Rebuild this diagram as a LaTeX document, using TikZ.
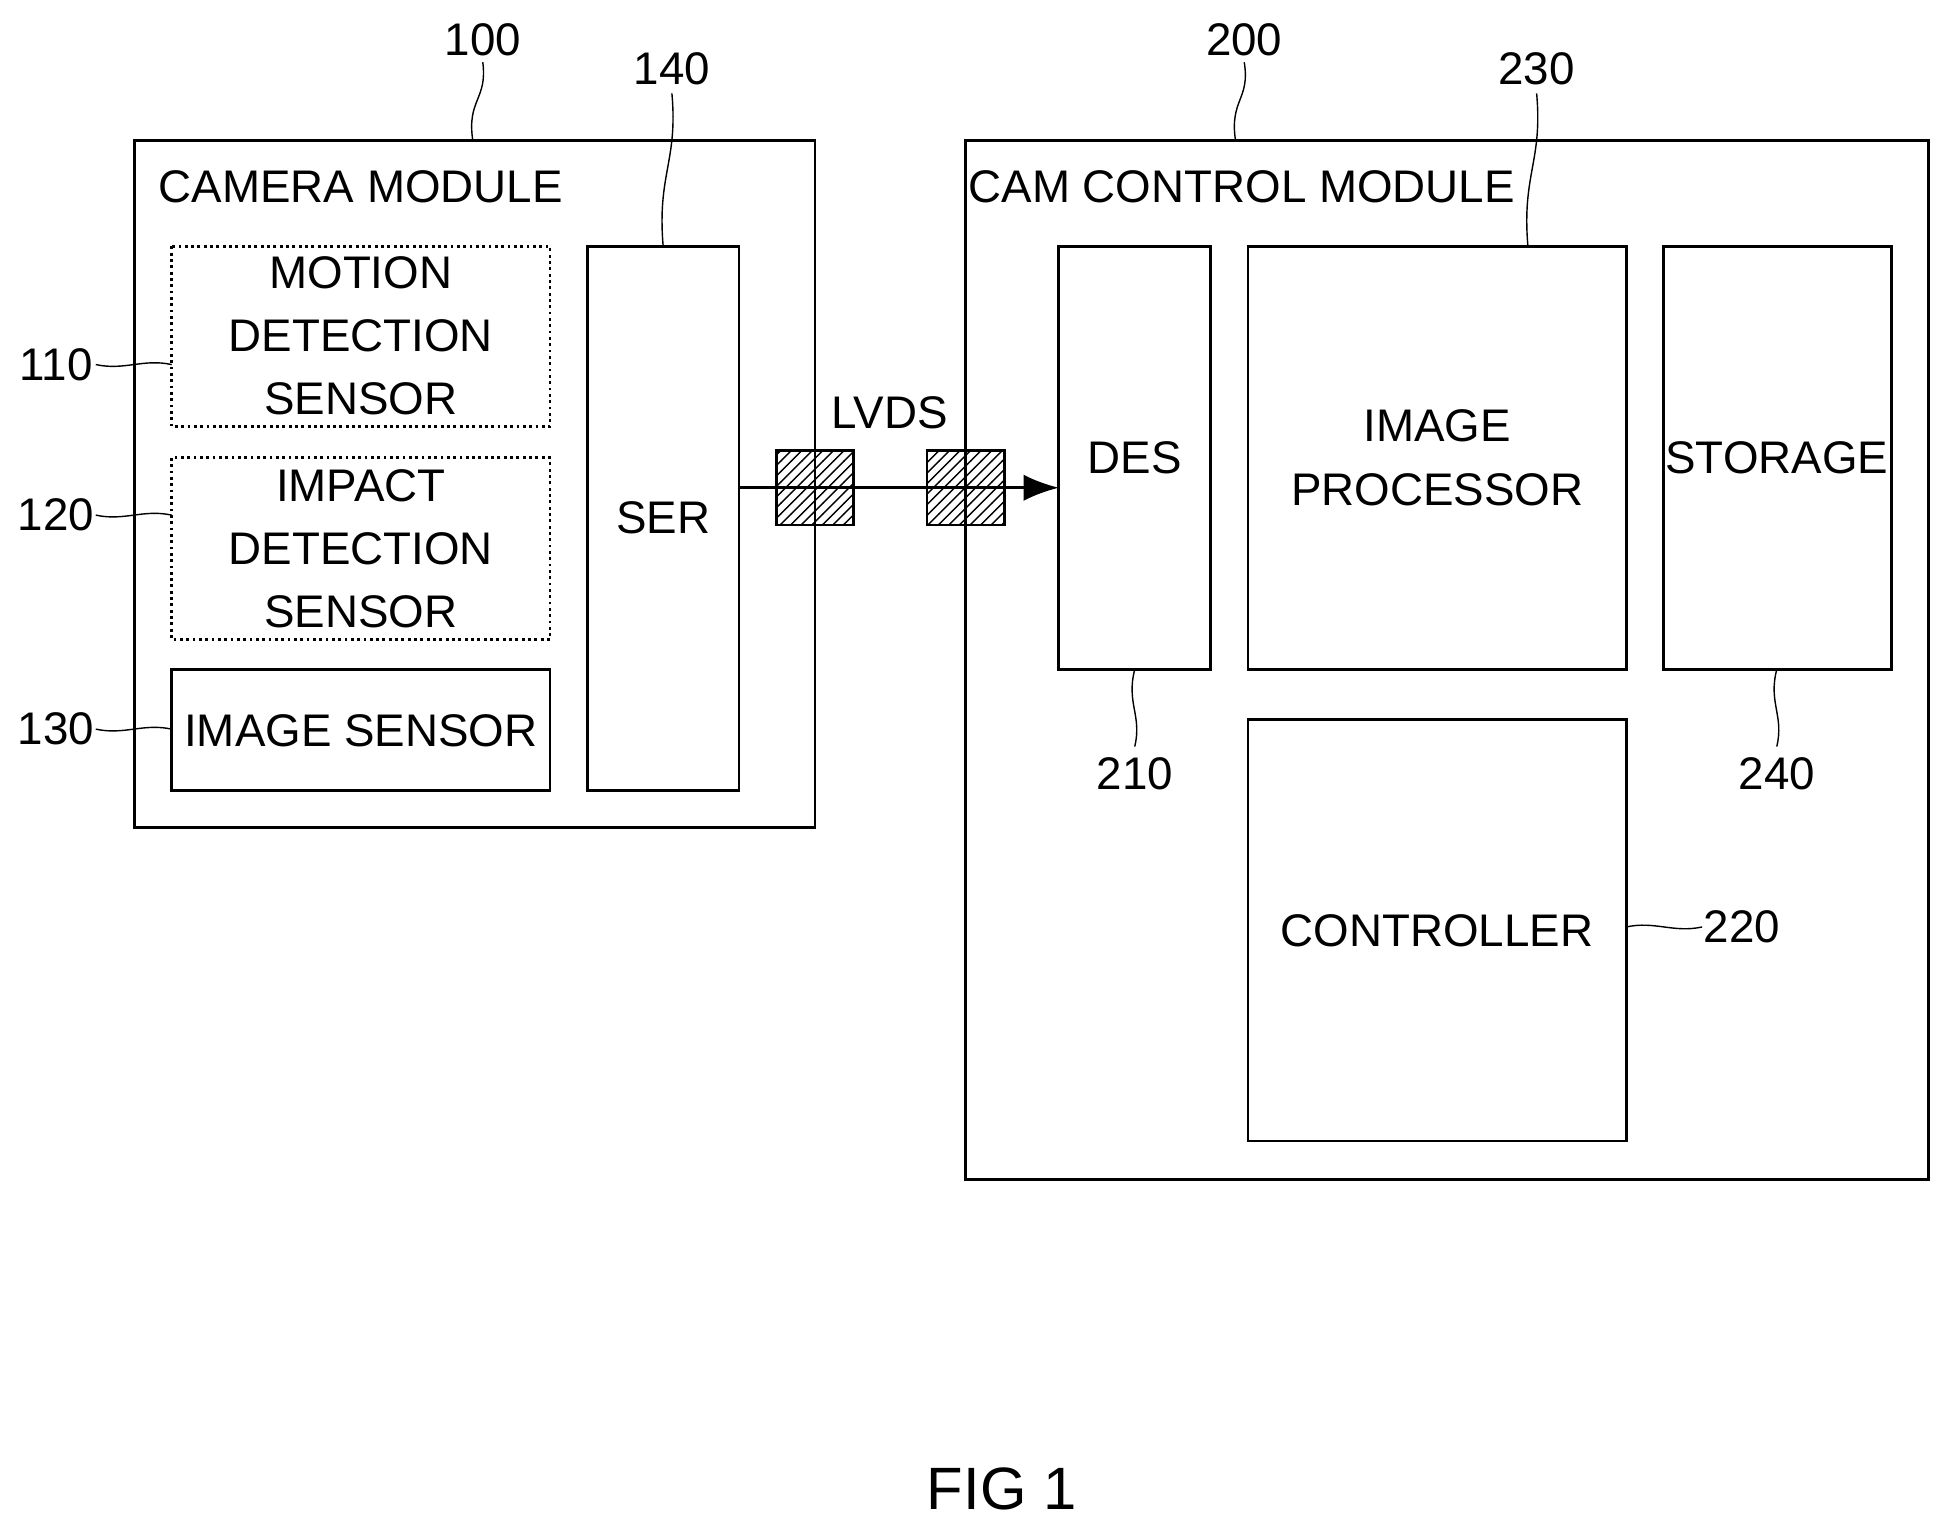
\documentclass[tikz,border=0pt]{standalone}
\usepackage{fontspec}
\setmainfont{Liberation Sans}
\usetikzlibrary{patterns,arrows.meta}
\begin{document}
\begin{tikzpicture}[x=0.01244cm,y=-0.01244cm,%%
  box/.style={draw,thick},%%
  dotBox/.style={draw,thick,densely dotted},%%
  lbl/.style={font=\fontsize{13}{18}\selectfont,align=center},%%
  leader/.style={-,thin},%%
  hatch/.style={draw,thick,pattern=north east lines}
]
\useasboundingbox (0,0) rectangle (1560,1227);
%%
%% Camera module
\draw[box] (108,113) rectangle (655,665);
\node[lbl] (camT) at (290,150) {CAMERA MODULE};
\draw[dotBox] (138,198) rectangle (442,343);
\node[lbl] (motion) at (290,270) {MOTION\\DETECTION\\SENSOR};
\draw[dotBox] (138,368) rectangle (442,514);
\node[lbl] (impact) at (290,441) {IMPACT\\DETECTION\\SENSOR};
\draw[box] (138,538) rectangle (442,635);
\node[lbl] (imgS) at (290,587) {IMAGE SENSOR};
\draw[box] (472,198) rectangle (594,635);
\node[lbl] (ser) at (533,416) {SER};
%%
%% Cam control module
\draw[box] (776,113) rectangle (1550,948);
\node[lbl] (ctlT) at (998,150) {CAM CONTROL MODULE};
\draw[box] (851,198) rectangle (973,538);
\node[lbl] (des) at (912,368) {DES};
\draw[box] (1003,198) rectangle (1307,538);
\node[lbl] (proc) at (1155,368) {IMAGE\\PROCESSOR};
\draw[box] (1337,198) rectangle (1520,538);
\node[lbl] (stor) at (1428,368) {STORAGE};
\draw[box] (1003,578) rectangle (1307,917);
\node[lbl] (ctrl) at (1155,748) {CONTROLLER};
%%
%% LVDS link
\coordinate (serR) at (594,392);
\coordinate (desL) at (851,392);
\draw[thick,-{Latex[length=10pt]}] (serR) -- (desL);
\draw[hatch] (624,362) rectangle (686,422);
\draw[hatch] (745,362) rectangle (807,422);
\node[lbl] (lvds) at (715,332) {LVDS};
%%
%% Reference numerals
\node[lbl] (n100) at (388,32) {100};
\draw[leader] (380,113) .. controls (375,80) and (392,80) .. (388,50);
\node[lbl] (n140) at (540,55) {140};
\draw[leader] (533,198) .. controls (528,140) and (545,130) .. (540,75);
\node[lbl] (n200) at (1000,32) {200};
\draw[leader] (993,113) .. controls (988,80) and (1005,80) .. (1000,50);
\node[lbl] (n230) at (1235,55) {230};
\draw[leader] (1228,198) .. controls (1223,140) and (1240,130) .. (1235,75);
\node[lbl] (n210) at (912,622) {210};
\draw[leader] (912,538) .. controls (905,565) and (918,575) .. (912,600);
\node[lbl] (n240) at (1428,622) {240};
\draw[leader] (1428,538) .. controls (1421,565) and (1434,575) .. (1428,600);
\node[lbl] (n220) at (1400,745) {220};
\draw[leader] (1307,745) .. controls (1330,740) and (1345,750) .. (1368,745);
\node[lbl] (n110) at (45,293) {110};
\draw[leader] (138,293) .. controls (115,288) and (100,298) .. (77,293);
\node[lbl] (n120) at (45,414) {120};
\draw[leader] (138,414) .. controls (115,409) and (100,419) .. (77,414);
\node[lbl] (n130) at (45,586) {130};
\draw[leader] (138,586) .. controls (115,581) and (100,591) .. (77,586);
%%
\node[font=\fontsize{17}{20}\selectfont] (fig) at (805,1197) {FIG 1};
\end{tikzpicture}
\end{document}
